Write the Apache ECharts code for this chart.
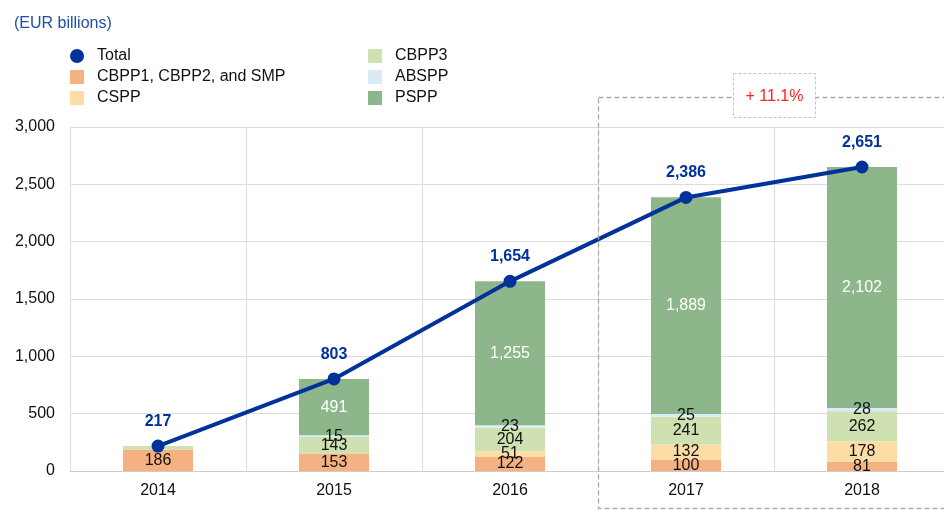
<!DOCTYPE html>
<html><head><meta charset="utf-8">
<script src="https://cdn.jsdelivr.net/npm/echarts@6/dist/echarts.min.js"></script>
<style>html,body{margin:0;padding:0;background:#fff;overflow:hidden;width:944px;height:511px}#c{width:964px;height:511px}</style>
</head><body><div id="c"></div>
<script>
var years = ['2014','2015','2016','2017','2018'];
var cbpp12smp = [186,153,122,100,81];
var cspp = [0,0,51,132,178];
var cbpp3 = [31,143,204,241,262];
var abspp = [0,15,23,25,28];
var pspp = [0,491,1255,1889,2102];
var total = [217,803,1654,2386,2651];
var yTicks = [0,500,1000,1500,2000,2500,3000];
var changeLabel = '+ 11.1%';

var FONT = '"Liberation Sans", Arial, sans-serif';
var BLUE = '#003299';
var chart = echarts.init(document.getElementById('c'), null, {renderer:'canvas'});
function fmt(v){ return Number(v).toLocaleString('en-US'); }

function barSeries(name, arr, color, labelColor, hideIdx) {
  return {
    name: name, type: 'bar', stack: 'a', barWidth: 70,
    itemStyle: {color: color},
    data: arr.map(function(v, i){
      var item = {value: v};
      if (v === 0 || (hideIdx && hideIdx.indexOf(i) >= 0)) item.label = {show:false};
      return item;
    }),
    label: {show: true, position: 'inside', color: labelColor, fontSize: 16, fontFamily: FONT,
      formatter: function(p){ return fmt(p.value); }},
    emphasis: {disabled: true}
  };
}

var legendText = {fontSize: 16, color: '#111', fontFamily: FONT, padding: [0,0,0,8]};
var option = {
  animation: false,
  textStyle: {fontFamily: FONT},
  title: {text: '(EUR billions)', left: 9, top: 11, textStyle: {color: '#1f4fa8', fontSize: 16, fontWeight: 'normal', fontFamily: FONT}},
  legend: [
    {left: 65, top: 43, orient: 'vertical', itemWidth: 14, itemHeight: 14, itemGap: 5,
     textStyle: legendText,
     data: [{name:'Total', icon:'circle'}, {name:'CBPP1, CBPP2, and SMP', icon:'rect'}, {name:'CSPP', icon:'rect'}]},
    {left: 363, top: 43, orient: 'vertical', itemWidth: 14, itemHeight: 14, itemGap: 5,
     textStyle: legendText,
     data: [{name:'CBPP3', icon:'rect'}, {name:'ABSPP', icon:'rect'}, {name:'PSPP', icon:'rect'}]}
  ],
  grid: {left: 70, top: 127, width: 880, height: 344, containLabel: false},
  xAxis: {
    type: 'category', data: years, boundaryGap: true,
    axisLine: {lineStyle: {color: '#cccccc'}},
    axisTick: {show: false},
    axisLabel: {color: '#111', fontSize: 16, margin: 12, fontFamily: FONT},
    splitLine: {show: true, lineStyle: {color: '#dddddd'}}
  },
  yAxis: {
    type: 'value', min: 0, max: 3000, interval: 500,
    axisLine: {show: false}, axisTick: {show: false},
    axisLabel: {color: '#111', fontSize: 16, margin: 15, fontFamily: FONT,
      formatter: function(v){ return yTicks.indexOf(v) >= 0 ? fmt(v) : ''; }},
    splitLine: {lineStyle: {color: '#dddddd'}}
  },
  series: [
    barSeries('CBPP1, CBPP2, and SMP', cbpp12smp, '#f6b183', '#111'),
    barSeries('CSPP', cspp, '#fddca5', '#111'),
    barSeries('CBPP3', cbpp3, '#cfe1b0', '#111', [0]),
    barSeries('ABSPP', abspp, '#d8ecf6', '#111'),
    barSeries('PSPP', pspp, '#8db78b', '#ffffff'),
    {
      name: 'Total', type: 'line', data: total, z: 10,
      symbol: 'circle', symbolSize: 13,
      lineStyle: {color: BLUE, width: 4}, itemStyle: {color: BLUE},
      label: {show: true, position: 'top', distance: 10, color: BLUE, fontWeight: 'bold', fontSize: 16, fontFamily: FONT,
        formatter: function(p){ return fmt(p.value); }},
      emphasis: {disabled: true}
    }
  ],
  graphic: [
    {type: 'rect', z: 100, shape: {x: 598.5, y: 97.5, width: 380, height: 411},
     style: {fill: 'none', stroke: '#aaaaaa', lineWidth: 1.3, lineDash: [5, 3]}},
    {type: 'rect', z: 101, shape: {x: 733.5, y: 73.5, width: 82, height: 44},
     style: {fill: '#ffffff', stroke: '#c4c4c4', lineWidth: 1, lineDash: [3, 2]}},
    {type: 'text', z: 102, x: 774.5, y: 97, style: {text: changeLabel, fill: '#ff2020', fontSize: 16, fontFamily: FONT, align: 'center', verticalAlign: 'middle'}}
  ]
};
chart.setOption(option);
</script></body></html>
